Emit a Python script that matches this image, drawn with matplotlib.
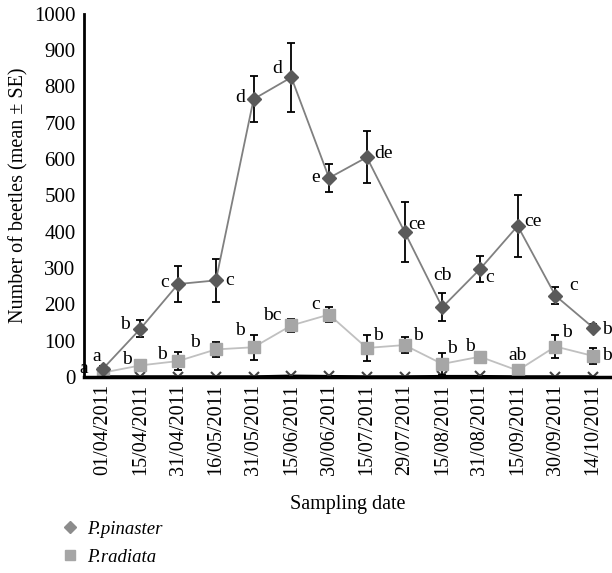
import matplotlib
matplotlib.use("Agg")
import matplotlib.pyplot as plt
from matplotlib.lines import Line2D

plt.rcParams['font.family'] = ['Liberation Serif', 'DejaVu Serif']

# sampling dates (x categories)
dates = ["01/04/2011", "15/04/2011", "31/04/2011", "16/05/2011", "31/05/2011",
         "15/06/2011", "30/06/2011", "15/07/2011", "29/07/2011", "15/08/2011",
         "31/08/2011", "15/09/2011", "30/09/2011", "14/10/2011"]

# P. pinaster
pinaster = [22, 133, 256, 266, 765, 825, 548, 605, 400, 192, 297, 416, 224, 136]
pinaster_se = [8, 23, 49, 60, 63, 95, 38, 72, 82, 39, 35, 86, 23, 10]
pinaster_let = ["a", "b", "c", "c", "d", "d", "e", "de", "ce", "cb", "c", "ce", "c", "b"]

# P. radiata
radiata = [12, 32, 44, 76, 82, 142, 172, 80, 88, 36, 56, 18, 84, 58]
radiata_se = [4, 10, 24, 21, 35, 19, 20, 35, 22, 30, 6, 6, 32, 22]
radiata_let = ["a", "b", "b", "b", "b", "bc", "c", "b", "b", "b", "b", "ab", "b", "b"]

# third series near zero
third = [1, 1, 1, 1, 1, 3, 2, 1, 1, 2, 2, 1, 1, 1]

# label offsets (points)
pin_off = [(-4, 9), (-11, 3), (-10, 1), (10, 0), (-10, 1), (-10, 6), (-10, 0), (12, 3),
           (9, 5), (0, 23), (7, -6), (11, 3), (13, 7), (10, -1)]
rad_off = [(-14, 3), (-10, 4), (-12, 5), (-15, 5), (-10, 12), (-14, 7), (-10, 7), (8, 9),
           (10, 7), (7, 11), (-7, 7), (0, 11), (8, 10), (10, 0)]

fig = plt.figure(figsize=(6.12, 5.73), dpi=100)
ax = fig.add_axes([0.137, 0.342, 0.863, 0.634])

x = list(range(len(dates)))

ax.plot(x, third, color="black", lw=2, marker="x", ms=7, mew=1.5, mec="#404040", zorder=2)
ax.errorbar(x, radiata, yerr=radiata_se, color="#c0c0c0", lw=1.3, marker="s", ms=8,
            mfc="#a6a6a6", mec="#a6a6a6", ecolor="black", elinewidth=1.3, capsize=3,
            capthick=1.3, zorder=3)
ax.errorbar(x, pinaster, yerr=pinaster_se, color="#808080", lw=1.3, marker="D", ms=7,
            mfc="#5a5a5a", mec="#5a5a5a", ecolor="black", elinewidth=1.3, capsize=3,
            capthick=1.3, zorder=4)

for i in x:
    ax.annotate(pinaster_let[i], (i, pinaster[i]), xytext=pin_off[i], textcoords="offset points",
                ha="center", va="center", fontsize=14)
    ax.annotate(radiata_let[i], (i, radiata[i]), xytext=rad_off[i], textcoords="offset points",
                ha="center", va="center", fontsize=14)

ax.set_xlim(-0.5, 13.5)
ax.set_ylim(0, 1000)
ax.set_yticks(range(0, 1001, 100))
ax.set_xticks(x)
ax.set_xticklabels(dates, rotation=90, fontsize=14.5)
ax.tick_params(axis="y", labelsize=15, length=0, pad=6)
ax.tick_params(axis="x", length=0, pad=5)
for s in ["top", "right"]:
    ax.spines[s].set_visible(False)
ax.spines["left"].set_linewidth(2)
ax.spines["bottom"].set_linewidth(2.5)
ax.spines["left"].set_zorder(5)
ax.spines["bottom"].set_zorder(5)

ax.set_ylabel("Number of beetles (mean \u00b1 SE)", fontsize=14.5, labelpad=4)
ax.set_xlabel("Sampling date", fontsize=14.5, labelpad=14)

handles = [Line2D([], [], ls="none", marker="D", ms=6, color="#8c8c8c"),
           Line2D([], [], ls="none", marker="s", ms=7, color="#a6a6a6")]
fig.legend(handles, ["P.pinaster", "P.radiata"], loc="upper left",
           bbox_to_anchor=(0.075, 0.121), frameon=False,
           prop={"style": "italic", "size": 13.5},
           handlelength=0.8, handletextpad=0.5, labelspacing=0.6)

fig.savefig("out.png", dpi=100)
